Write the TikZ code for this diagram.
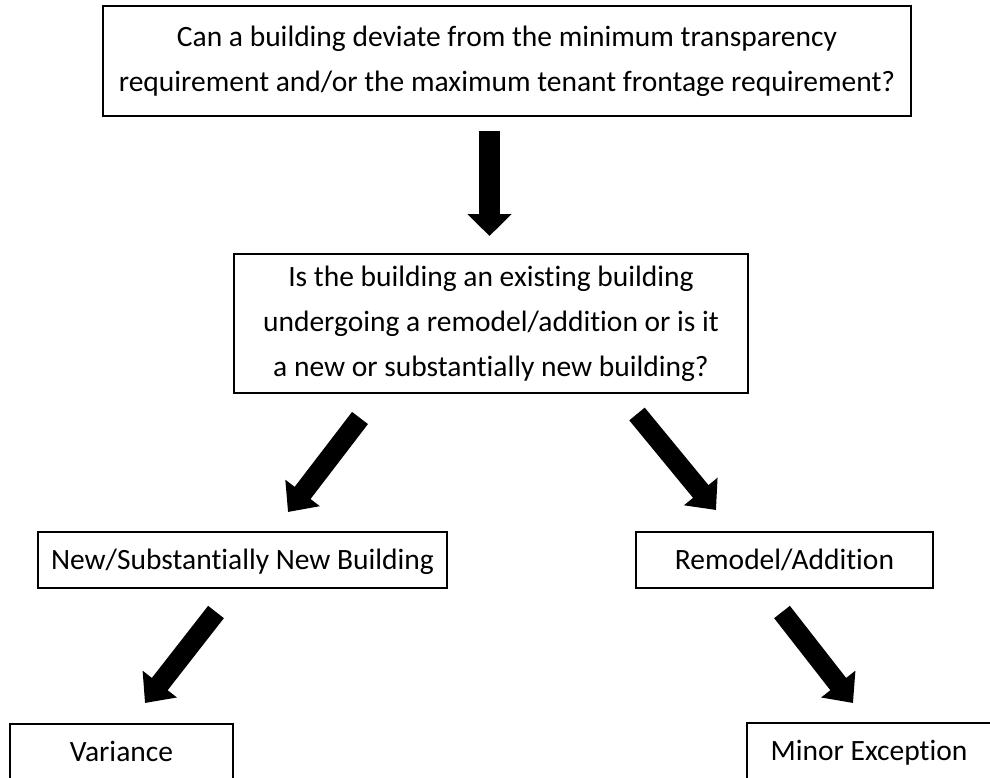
\documentclass[tikz,border=0pt]{standalone}
\usepackage{fontspec}
\setmainfont{Carlito}[Ligatures=NoCommon]
\usetikzlibrary{arrows.meta}
\begin{document}
\begin{tikzpicture}[x=1pt,y=-1pt,
  box/.style={draw=black, line width=1.6pt, inner sep=0pt, align=center,
    font=\fontsize{29.5pt}{45pt}\selectfont},
  onebox/.style={box, text height=23pt, text depth=5pt, minimum height=56pt},
  blockarrow/.style={line width=20pt, -{Triangle[width=42pt,length=24pt]}},
  downarrow/.style={line width=21pt, -{Triangle[width=43pt,length=22pt]}}
]
\useasboundingbox (0,0) rectangle (990,778);
\clip (0,0) rectangle (990,778);

\node[box, minimum width=808pt, minimum height=110pt] (q1) at (507,61)
  {Can a building deviate from the minimum transparency\\requirement and/or the maximum tenant frontage requirement?};
\node[box, minimum width=514pt, minimum height=139pt] (q2) at (491,323.5)
  {Is the building an existing building\\undergoing a remodel/addition or is it\\a new or substantially new building?};
\node[onebox, minimum width=409pt] (nb) at (242.5,560)
  {New/Substantially New Building};
\node[onebox, minimum width=297pt] (ra) at (784.5,560)
  {Remodel/Addition};
\node[onebox, minimum width=223pt] (var) at (121.5,752)
  {Variance};
\node[onebox, minimum width=244pt] (me) at (869,751)
  {Minor Exception};

\coordinate (a1s) at (489.5,131);
\coordinate (a1e) at (489.5,236);
\coordinate (a2s) at (360,418);
\coordinate (a2e) at (288,512);
\coordinate (a3s) at (637,414);
\coordinate (a3e) at (716,510);
\coordinate (a4s) at (216,612);
\coordinate (a4e) at (145,703);
\coordinate (a5s) at (782,612);
\coordinate (a5e) at (853,703);

\draw[downarrow] (a1s) -- (a1e);
\draw[blockarrow] (a2s) -- (a2e);
\draw[blockarrow] (a3s) -- (a3e);
\draw[blockarrow] (a4s) -- (a4e);
\draw[blockarrow] (a5s) -- (a5e);
\end{tikzpicture}
\end{document}
